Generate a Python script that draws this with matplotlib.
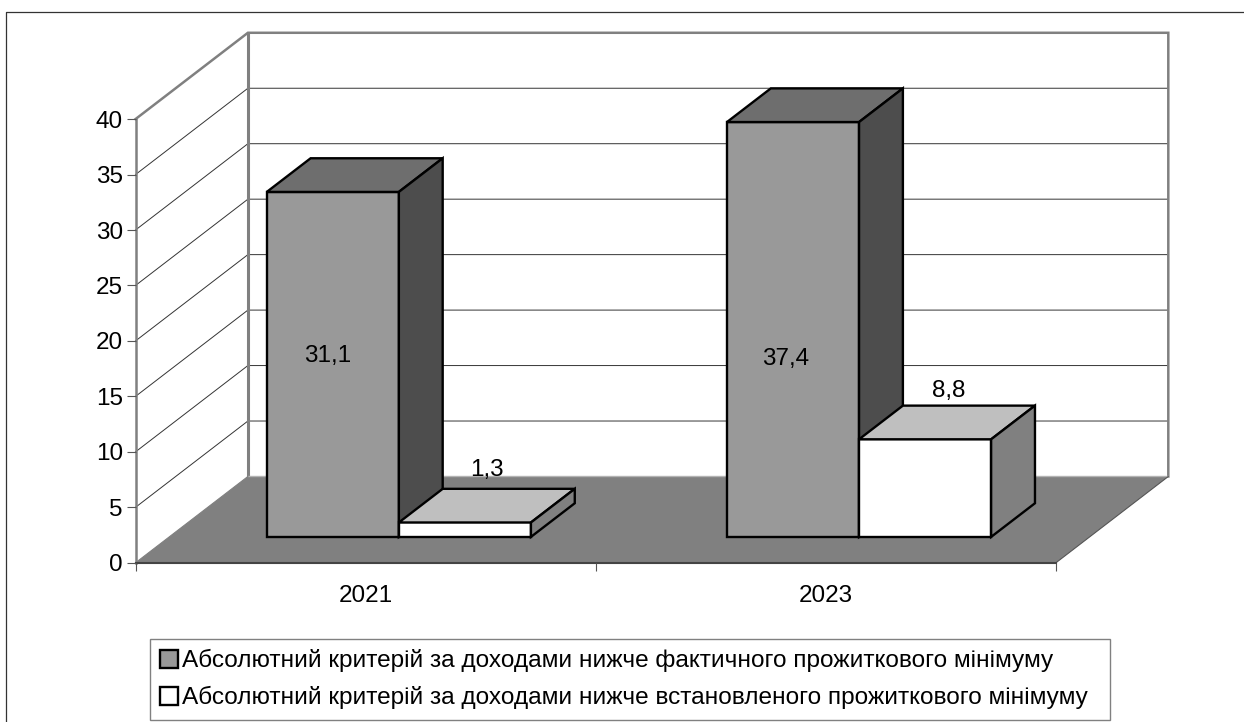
import matplotlib
matplotlib.use("Agg")
import matplotlib.pyplot as plt
from matplotlib.lines import Line2D
from matplotlib.patches import Patch, Polygon

plt.rcParams['font.family'] = ['Liberation Sans', 'DejaVu Sans']

years = ['2021', '2023']
actual_min = [31.1, 37.4]
official_min = [1.3, 8.8]
y_ticks = [0, 5, 10, 15, 20, 25, 30, 35, 40]
actual_label = 'Абсолютний критерій за доходами нижче фактичного прожиткового мінімуму'
official_label = 'Абсолютний критерій за доходами нижче встановленого прожиткового мінімуму'

W, H = 1244, 722
DEPTH_X = 112.4 / 460.2   # wall depth, in category units
DEPTH_Y = 86.3 / 11.09    # wall depth, in value units
GAP = 0.212
BAR_W = 0.287
D0, D1 = 0.30, 0.69

GRAY = '#808080'


def proj(x, v, d):
    # fake oblique 3d: d=0 is the front of the box, d=1 the back wall
    return (x + d * DEPTH_X, v + d * DEPTH_Y)


def bar3d(ax, x0, x1, v, front, top, side, z):
    faces = [
        ([proj(x0, 0, D0), proj(x1, 0, D0), proj(x1, v, D0), proj(x0, v, D0)], front),
        ([proj(x0, v, D0), proj(x1, v, D0), proj(x1, v, D1), proj(x0, v, D1)], top),
        ([proj(x1, 0, D0), proj(x1, 0, D1), proj(x1, v, D1), proj(x1, v, D0)], side),
    ]
    for pts, col in faces:
        ax.add_patch(Polygon(pts, closed=True, facecolor=col, edgecolor='black',
                             linewidth=1.7, joinstyle='miter', zorder=z, clip_on=False))


fig = plt.figure(figsize=(W / 100., H / 100.), dpi=100)
ax = fig.add_axes([135.5 / W, 1 - 562.8 / H, 920.4 / W, 443.7 / H])
ax.set_xlim(0, 2)
ax.set_ylim(0, 40)
ax.patch.set_visible(False)

# outer frame, open at the right and bottom of the canvas
fig.add_artist(Line2D([5.5 / W, 5.5 / W, 1.0], [0, 1 - 12.3 / H, 1 - 12.3 / H],
                      color='#333333', linewidth=0.9))

# floor
floor = [proj(0, 0, 0), proj(2, 0, 0), proj(2, 0, 1), proj(0, 0, 1)]
ax.add_patch(Polygon(floor, closed=True, facecolor=GRAY, edgecolor='none', zorder=1, clip_on=False))

# grid on both walls
for v in y_ticks[1:-1]:
    xs, ys = zip(proj(0, v, 0), proj(0, v, 1), proj(2, v, 1))
    ax.plot(xs, ys, color='#333333', linewidth=0.7, zorder=1, clip_on=False)

# wall edges
xs, ys = zip(proj(0, 40, 0), proj(0, 40, 1), proj(2, 40, 1), proj(2, 0, 1))
ax.plot(xs, ys, color=GRAY, linewidth=1.8, zorder=2, clip_on=False, solid_joinstyle='miter')
xs, ys = zip(proj(0, 0, 1), proj(0, 40, 1))
ax.plot(xs, ys, color=GRAY, linewidth=2.2, zorder=2, clip_on=False)
xs, ys = zip(proj(0, 0, 1), proj(2, 0, 1))
ax.plot(xs, ys, color='#b3b3b3', linewidth=1.0, zorder=2, clip_on=False)
xs, ys = zip(proj(0, 0, 0), proj(0, 0, 1))
ax.plot(xs, ys, color=GRAY, linewidth=0.8, zorder=2, clip_on=False)
xs, ys = zip(proj(2, 0, 0), proj(2, 0, 1))
ax.plot(xs, ys, color='#555555', linewidth=0.8, zorder=2, clip_on=False)

# bars, left to right so the neighbours overlap properly
for i in range(len(years)):
    x0 = i + GAP
    bar3d(ax, x0, x0 + BAR_W, actual_min[i], '#999999', '#6e6e6e', '#4d4d4d', 3)
    bar3d(ax, x0 + BAR_W, x0 + 2 * BAR_W, official_min[i], '#ffffff', '#bfbfbf', GRAY, 4)

# data labels, LibreOffice puts these in odd spots so they are set by hand
for x, y, s in [(0.417, 18.68, '31,1'), (1.412, 18.36, '37,4'),
                (0.764, 8.36, '1,3'), (1.768, 15.5, '8,8')]:
    ax.text(x, y, s, ha='center', va='center', fontsize=17.5, color='black', zorder=6)

for side in ['top', 'right']:
    ax.spines[side].set_visible(False)
ax.spines['left'].set_color(GRAY)
ax.spines['left'].set_linewidth(1.8)
ax.spines['bottom'].set_color('#444444')
ax.spines['bottom'].set_linewidth(1.5)
ax.set_axisbelow(False)

ax.set_yticks(y_ticks)
ax.tick_params(axis='y', length=6.2, width=0.8, color='#555555', pad=2.9, labelsize=17.5)
ax.set_xticks([0, 1, 2])
ax.set_xticklabels([])
ax.set_xticks([0.5, 1.5], labels=years, minor=True)
ax.tick_params(axis='x', which='major', length=5.8, width=0.8, color='#555555')
ax.tick_params(axis='x', which='minor', length=0, pad=16, labelsize=17.5)

handles = [Patch(facecolor='#999999', edgecolor='black', linewidth=1.7),
           Patch(facecolor='white', edgecolor='black', linewidth=1.7)]
leg = fig.legend(handles, [actual_label, official_label],
                 loc='upper left', bbox_to_anchor=(150. / W, 1 - 639. / H, 960. / W, 0),
                 mode='expand', ncol=1, fontsize=17.6, frameon=True, fancybox=False,
                 edgecolor=GRAY, framealpha=1, handlelength=0.74, handleheight=0.74,
                 handletextpad=0.15, borderpad=0.42, borderaxespad=0, labelspacing=0.56)
leg.get_frame().set_linewidth(1.0)

fig.savefig('out.png', dpi=100)
